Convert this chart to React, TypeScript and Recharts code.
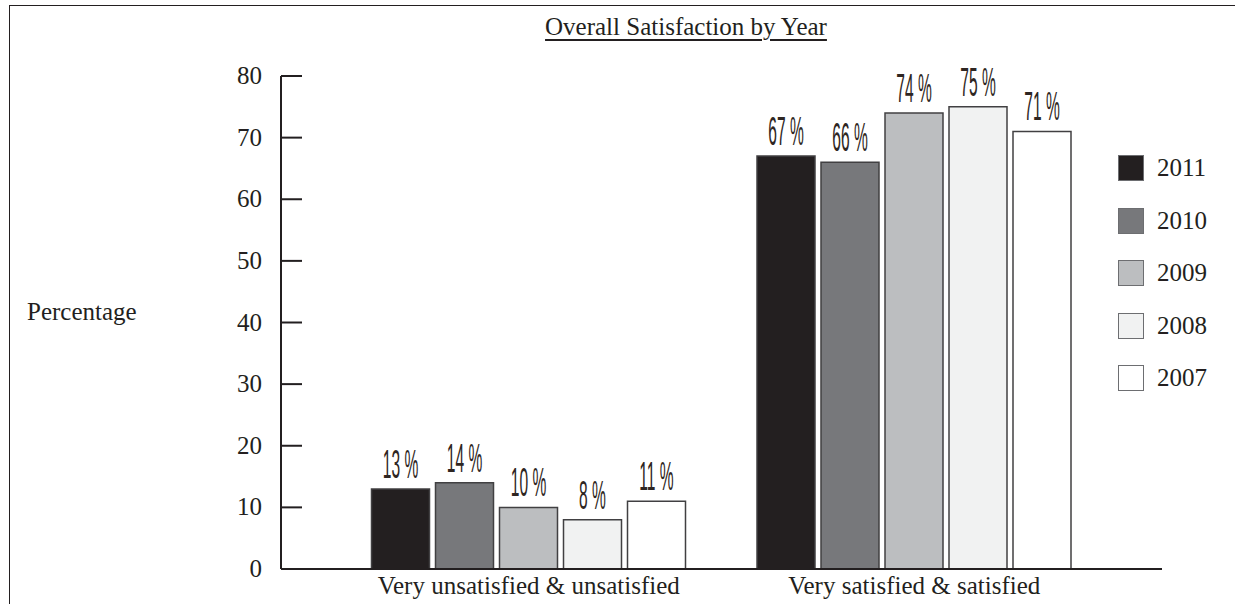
import React from 'react';
import { BarChart, Bar, XAxis, YAxis, Legend, LabelList } from 'recharts';

// ---- data ----
const categories = ['Very unsatisfied & unsatisfied', 'Very satisfied & satisfied'];
const years = ['2011', '2010', '2009', '2008', '2007'];
const values2011 = [13, 67];
const values2010 = [14, 66];
const values2009 = [10, 74];
const values2008 = [8, 75];
const values2007 = [11, 71];
const yTicks = [0, 10, 20, 30, 40, 50, 60, 70, 80];
const yearColors = ['#231f20', '#77787b', '#bcbec0', '#f1f2f2', '#ffffff'];

const seriesValues = [values2011, values2010, values2009, values2008, values2007];
const data = categories.map((c, i) => {
  const row: any = { category: c };
  years.forEach((y, j) => {
    row[y] = seriesValues[j][i];
  });
  return row;
});

const SERIF = '"Liberation Serif", "Times New Roman", serif';
const INK = '#231f20';

const ValueLabel = (props: any) => {
  const { x, y, width, value } = props;
  const cx = Number(x) + Number(width) / 2;
  return (
    <g transform={`translate(${cx},${Number(y) - 11}) scale(0.38,1)`}>
      <text
        x={0}
        y={0}
        textAnchor="middle"
        fontFamily='"Liberation Sans", Arial, sans-serif'
        fontSize={41}
        fill="#2e2622"
      >
        {`${value} %`}
      </text>
    </g>
  );
};

const LeftTick = (props: any) => {
  const { x, y, payload } = props;
  return (
    <g>
      <line x1={x + 19} y1={y} x2={x + 40} y2={y} stroke={INK} strokeWidth={2} />
      <text x={x} y={y} dy={8} textAnchor="end" fontFamily={SERIF} fontSize={25} fill={INK}>
        {payload.value}
      </text>
    </g>
  );
};

const EndTick = (props: any) => {
  const { x, y } = props;
  return <line x1={x} y1={y} x2={x} y2={y - 13} stroke={INK} strokeWidth={2} />;
};

const LegendContent = () => (
  <div style={{ display: 'flex', flexDirection: 'column' }}>
    {years.map((yr, i) => (
      <div key={yr} style={{ display: 'flex', alignItems: 'center', height: 52.5 }}>
        <div
          style={{
            width: 24,
            height: 24,
            background: yearColors[i],
            border: '1.5px solid #6d6e71',
            boxSizing: 'content-box',
          }}
        />
        <span style={{ marginLeft: 13, fontFamily: SERIF, fontSize: 25, color: INK }}>{yr}</span>
      </div>
    ))}
  </div>
);

export default function App() {
  return (
    <div style={{ position: 'absolute', left: 0, top: 0, width: 1235, height: 604, background: '#fff', overflow: 'hidden' }}>
      <div
        style={{
          position: 'absolute',
          left: 9,
          top: 4.5,
          right: 0,
          bottom: 0,
          borderTop: '1.5px solid #231f20',
          borderLeft: '1.5px solid #231f20',
        }}
      />
      <div
        style={{
          position: 'absolute',
          left: 0,
          width: 1372,
          top: 14,
          textAlign: 'center',
          fontFamily: SERIF,
          fontSize: 25,
          lineHeight: '25px',
          color: INK,
          textDecoration: 'underline',
          textUnderlineOffset: '4px',
          textDecorationThickness: '1.5px',
        }}
      >
        Overall Satisfaction by Year
      </div>
      <div style={{ position: 'absolute', left: 0, top: 0 }}>
        <BarChart
          width={1235}
          height={604}
          data={data}
          margin={{ top: 76, right: 72, bottom: 5, left: 27 }}
          barCategoryGap={35.5}
          barGap={6}
        >
          <XAxis
            dataKey="category"
            padding={{ left: 55, right: 55 }}
            axisLine={{ stroke: INK, strokeWidth: 2 }}
            tickLine={false}
            tickSize={0}
            tickMargin={7}
            height={30}
            tick={{ fontSize: 25, fill: INK, fontFamily: SERIF }}
          />
          <YAxis
            domain={[0, 80]}
            ticks={yTicks}
            width={254}
            axisLine={{ stroke: INK, strokeWidth: 2 }}
            tickLine={false}
            tickSize={0}
            tickMargin={19}
            tick={LeftTick}
            label={{
              content: (p: any) => {
                const vb = p.viewBox || {};
                return (
                  <text x={vb.x} y={vb.y + vb.height / 2 - 3} fontFamily={SERIF} fontSize={25} fill={INK}>
                    Percentage
                  </text>
                );
              },
            }}
          />
          <YAxis
            yAxisId="r"
            orientation="right"
            width={1}
            domain={[0, 80]}
            ticks={[0]}
            axisLine={false}
            tickLine={false}
            tickSize={0}
            tickMargin={0}
            tick={EndTick}
          />
          <Legend
            layout="vertical"
            align="center"
            verticalAlign="middle"
            content={LegendContent}
            wrapperStyle={{ left: 1118, top: 142, width: 'auto', height: 'auto', margin: 0, padding: 0 }}
          />
          {years.map((yr, i) => (
            <Bar
              key={yr}
              dataKey={yr}
              name={yr}
              fill={yearColors[i]}
              stroke="#414042"
              strokeWidth={1.5}
              isAnimationActive={false}
            >
              <LabelList dataKey={yr} content={ValueLabel} />
            </Bar>
          ))}
        </BarChart>
      </div>
    </div>
  );
}
